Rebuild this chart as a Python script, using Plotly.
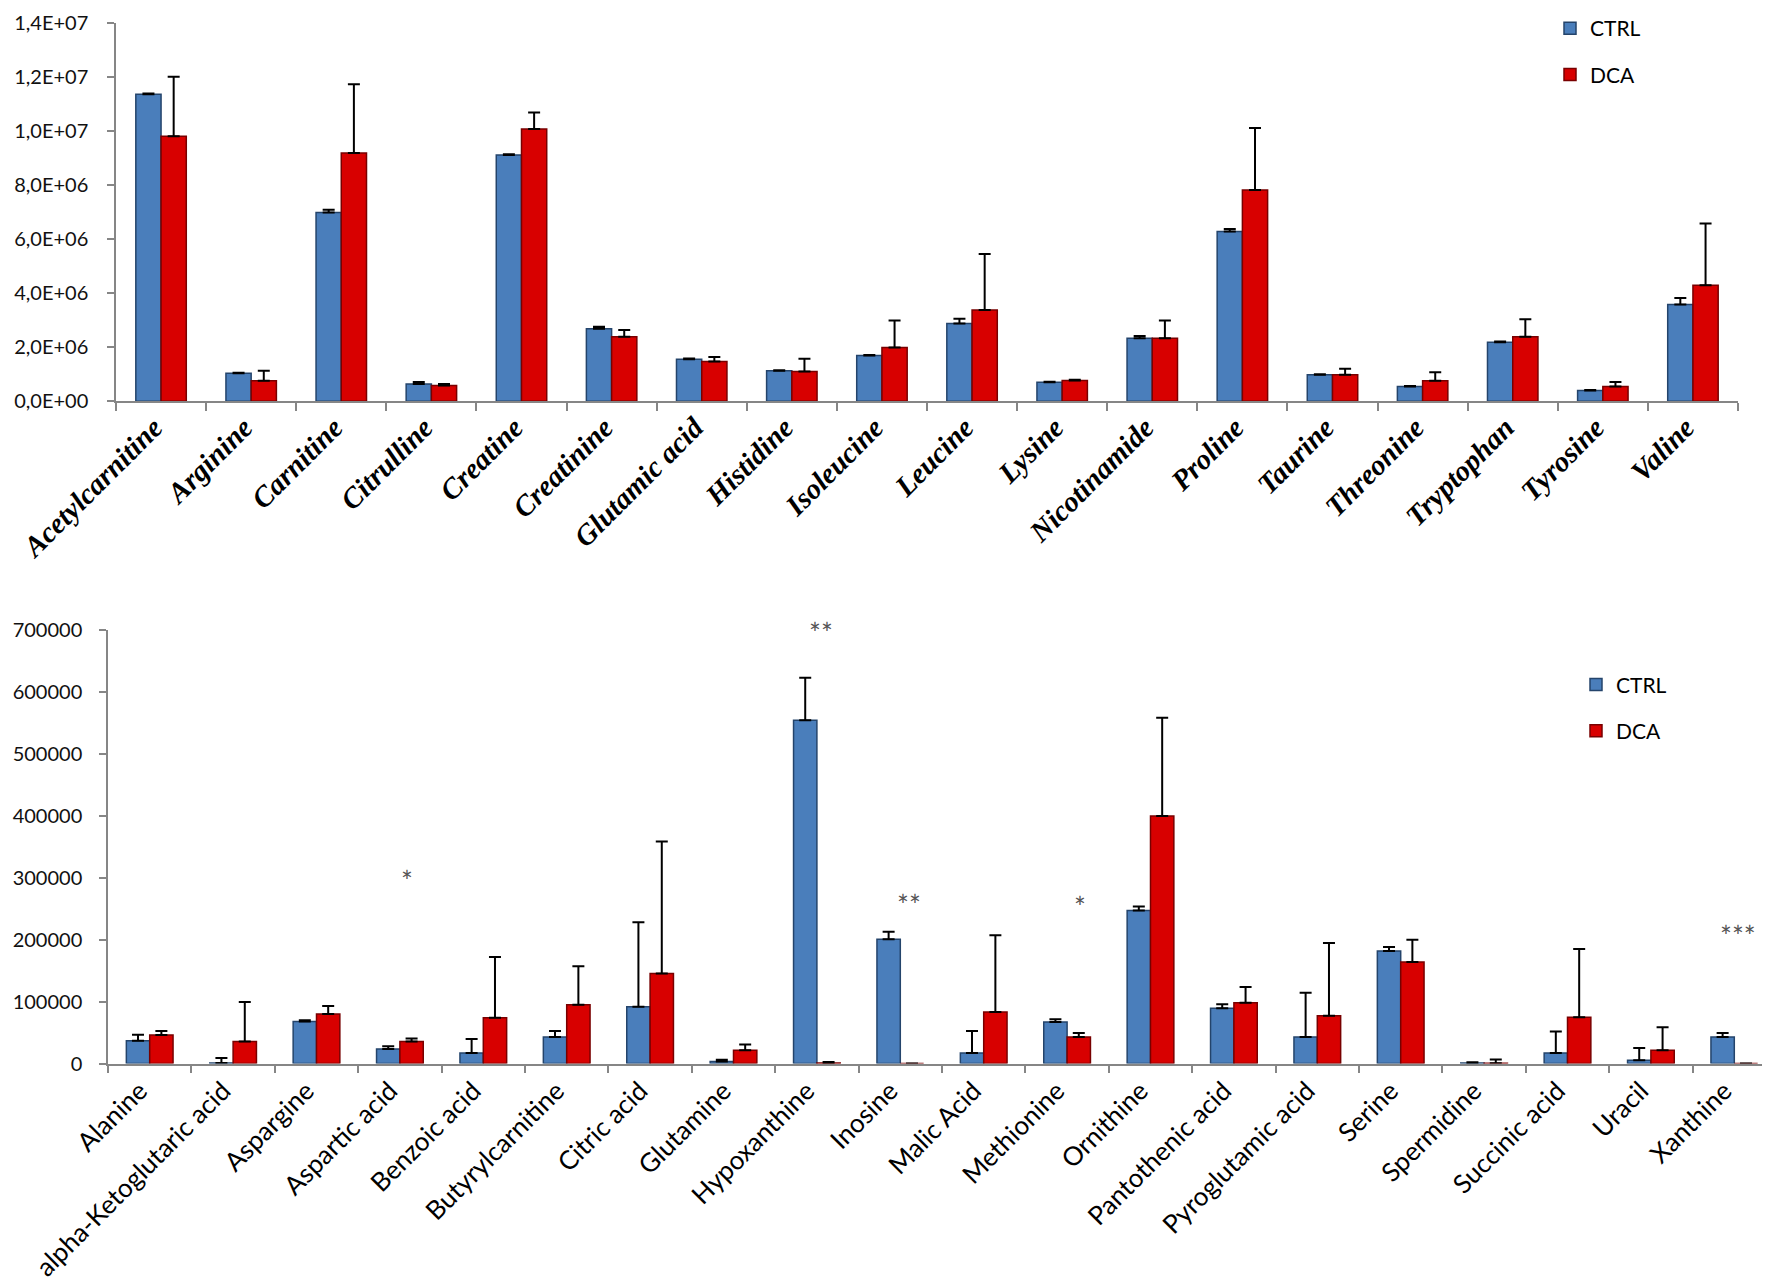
import plotly.graph_objects as go

# ---------------- data ----------------
top_categories = ["Acetylcarnitine", "Arginine", "Carnitine", "Citrulline", "Creatine", "Creatinine",
                  "Glutamic acid", "Histidine", "Isoleucine", "Leucine", "Lysine", "Nicotinamide",
                  "Proline", "Taurine", "Threonine", "Tryptophan", "Tyrosine", "Valine"]
ctrl_top = [11.36e6, 1.04e6, 6.99e6, 0.64e6, 9.11e6, 2.68e6, 1.56e6, 1.13e6, 1.69e6, 2.88e6,
            0.70e6, 2.33e6, 6.28e6, 0.98e6, 0.55e6, 2.18e6, 0.40e6, 3.58e6]
ctrl_top_err = [0.03e6, 0.02e6, 0.10e6, 0.07e6, 0.03e6, 0.08e6, 0.02e6, 0.02e6, 0.02e6, 0.17e6,
                0.02e6, 0.09e6, 0.10e6, 0.02e6, 0.02e6, 0.03e6, 0.02e6, 0.24e6]
dca_top = [9.81e6, 0.76e6, 9.19e6, 0.58e6, 10.08e6, 2.39e6, 1.47e6, 1.10e6, 1.99e6, 3.38e6,
           0.77e6, 2.33e6, 7.82e6, 0.98e6, 0.76e6, 2.39e6, 0.55e6, 4.29e6]
dca_top_err = [2.20e6, 0.37e6, 2.54e6, 0.06e6, 0.61e6, 0.25e6, 0.17e6, 0.47e6, 1.00e6, 2.07e6,
               0.03e6, 0.66e6, 2.29e6, 0.22e6, 0.31e6, 0.65e6, 0.16e6, 2.29e6]
top_tickvals = [0, 2e6, 4e6, 6e6, 8e6, 10e6, 12e6, 14e6]
top_ticktext = ["0,0E+00", "2,0E+06", "4,0E+06", "6,0E+06", "8,0E+06", "1,0E+07", "1,2E+07", "1,4E+07"]

bot_categories = ["Alanine", "alpha-Ketoglutaric acid", "Aspargine", "Aspartic acid", "Benzoic acid",
                  "Butyrylcarnitine", "Citric acid", "Glutamine", "Hypoxanthine", "Inosine",
                  "Malic Acid", "Methionine", "Ornithine", "Pantothenic acid", "Pyroglutamic acid",
                  "Serine", "Spermidine", "Succinic acid", "Uracil", "Xanthine"]
ctrl_bot = [36900, 1000, 67900, 23500, 17100, 42800, 91900, 3200, 554000, 200400,
            17100, 67300, 246900, 89300, 42800, 181700, 1000, 17100, 5300, 42800]
ctrl_bot_err = [9600, 8000, 2000, 4300, 22500, 9600, 136000, 3200, 68400, 12300,
                35300, 4300, 6400, 6400, 71600, 6400, 1000, 34700, 19800, 6400]
dca_bot = [46000, 35800, 80200, 35800, 73800, 95100, 145400, 21400, 1000, 0,
           83400, 42800, 399300, 98300, 77000, 164100, 500, 74800, 21400, 0]
dca_bot_err = [6400, 63600, 12800, 4800, 98300, 62000, 212700, 9600, 1500, None,
               123500, 6400, 158700, 25100, 117600, 35800, 6000, 110100, 37400, None]
bot_tickvals = [0, 100000, 200000, 300000, 400000, 500000, 600000, 700000]
bot_ticktext = ["0", "100000", "200000", "300000", "400000", "500000", "600000", "700000"]

sig_categories = ["Aspartic acid", "Hypoxanthine", "Inosine", "Methionine", "Xanthine"]
sig_labels = ["*", "**", "**", "*", "***"]
sig_y = [292000, 692000, 253000, 250000, 203000]
sig_shift = [7, 4, 9, 13, 4]

# ---------------- styles ----------------
BLUE = "#4A7EBB"
BLUE_EDGE = "#24446B"
RED = "#D80000"
RED_EDGE = "#780000"
AXIS = "#868686"
W, H = 1770, 1282


def err(arr):
    return dict(type="data", symmetric=False, array=arr,
                arrayminus=[0] * len(arr), color="black", thickness=2, width=6)


fig = go.Figure()
fig.add_trace(go.Bar(x=top_categories, y=ctrl_top, name="CTRL", marker=dict(color=BLUE, line=dict(color=BLUE_EDGE, width=1.5)),
                     error_y=err(ctrl_top_err), xaxis="x", yaxis="y", legend="legend", legendgroup="a"))
fig.add_trace(go.Bar(x=top_categories, y=dca_top, name="DCA", marker=dict(color=RED, line=dict(color=RED_EDGE, width=1.5)),
                     error_y=err(dca_top_err), xaxis="x", yaxis="y", legend="legend", legendgroup="b"))
fig.add_trace(go.Bar(x=bot_categories, y=ctrl_bot, name="CTRL", marker=dict(color=BLUE, line=dict(color=BLUE_EDGE, width=1.5)),
                     error_y=err(ctrl_bot_err), xaxis="x2", yaxis="y2", legend="legend2", legendgroup="c"))
fig.add_trace(go.Bar(x=bot_categories, y=dca_bot, name="DCA", marker=dict(color=RED, line=dict(color=RED_EDGE, width=1.5)),
                     error_y=err(dca_bot_err), xaxis="x2", yaxis="y2", legend="legend2", legendgroup="d"))

for c, lab, yv, sh in zip(sig_categories, sig_labels, sig_y, sig_shift):
    fig.add_annotation(x=c, y=yv, xref="x2", yref="y2", text=lab, showarrow=False, xshift=sh, yshift=2,
                       font=dict(family="Lato", size=28, color="#555555"))

xcommon = dict(type="category", showline=True, linecolor=AXIS, linewidth=1.5, ticks="outside",
               tickson="boundaries", ticklen=8, tickcolor=AXIS, tickwidth=1.5, tickangle=-45,
               showgrid=False, zeroline=False, automargin=False, fixedrange=True)
ycommon = dict(showline=True, linecolor=AXIS, linewidth=1.5, ticks="outside", ticklen=7,
               tickcolor=AXIS, tickwidth=1.5, showgrid=False, zeroline=False, automargin=False,
               tickfont=dict(family="Lato", size=20, color="#111111"),
               ticklabeloverflow="allow")


def py(px):
    return (H - px) / H


fig.update_layout(
    width=W, height=H, margin=dict(l=0, r=0, t=0, b=0), autosize=False,
    plot_bgcolor="white", paper_bgcolor="white",
    barmode="group", bargap=0.44, bargroupgap=0.0,
    xaxis=dict(**xcommon, domain=[108 / W, 1730 / W], anchor="y", ticklabelshift=-7, ticklabelstandoff=-4,
               tickfont=dict(family="Liberation Serif", size=29, weight="bold", style="italic", color="black")),
    yaxis=dict(**ycommon, domain=[py(387), py(6)], anchor="x", range=[0, 1.4e7], ticklabelstandoff=15,
               tickvals=top_tickvals, ticktext=top_ticktext),
    xaxis2=dict(**xcommon, domain=[100 / W, 1768 / W], anchor="y2", ticklabelshift=-10,
                tickfont=dict(family="Lato", size=26, color="black")),
    yaxis2=dict(**ycommon, domain=[py(1054), py(617)], anchor="x2", range=[0, 700000], ticklabelstandoff=13,
                tickvals=bot_tickvals, ticktext=bot_ticktext),
    legend=dict(x=1542 / W, y=py(-9), xanchor="left", yanchor="top", bgcolor="rgba(0,0,0,0)",
                font=dict(family="Lato", size=21, color="black"), tracegroupgap=16, itemwidth=30),
    legend2=dict(x=1568 / W, y=py(652), xanchor="left", yanchor="top", bgcolor="rgba(0,0,0,0)",
                 font=dict(family="Lato", size=21, color="black"), tracegroupgap=16, itemwidth=30),
    showlegend=True,
)

fig.write_html("out.html")
